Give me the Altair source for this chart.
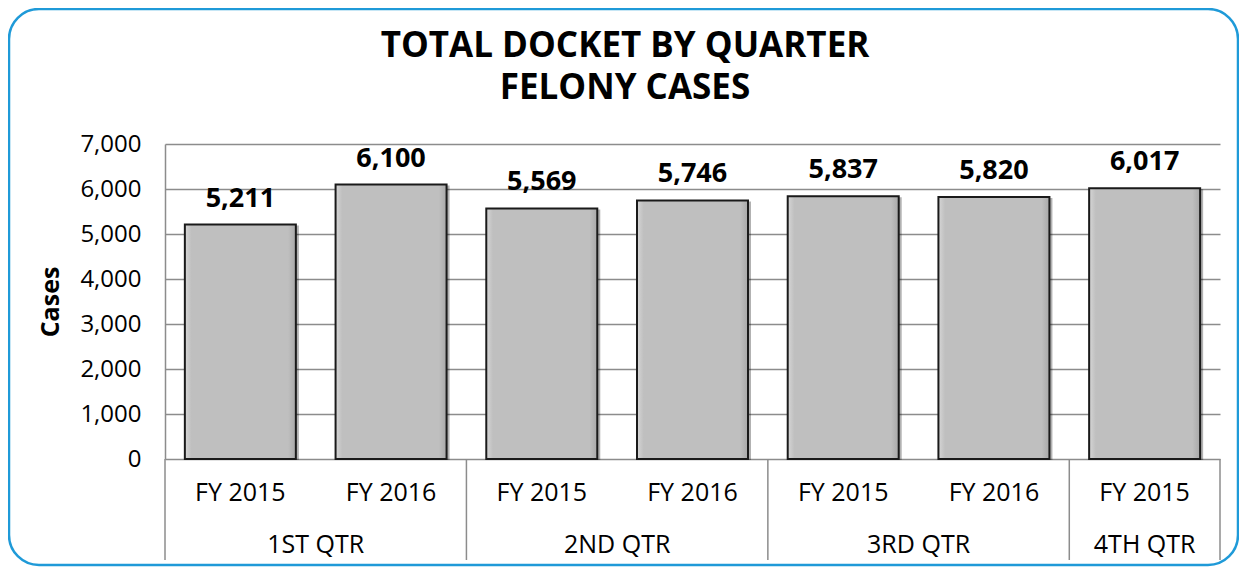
import altair as alt
import pandas as pd

# ---- data ----
quarters = ["1ST QTR", "1ST QTR", "2ND QTR", "2ND QTR", "3RD QTR", "3RD QTR", "4TH QTR"]
years = ["FY 2015", "FY 2016", "FY 2015", "FY 2016", "FY 2015", "FY 2016", "FY 2015"]
cases = [5211, 6100, 5569, 5746, 5837, 5820, 6017]
title_lines = ["TOTAL DOCKET BY QUARTER", "FELONY CASES"]
y_ticks = [0, 1000, 2000, 3000, 4000, 5000, 6000, 7000]

FONT = "Open Sans"
W, H = 1055, 315

df = pd.DataFrame({"quarter": quarters, "year": years, "cases": cases,
                   "pos": list(range(len(cases)))})
grp = df.groupby("quarter", sort=False)["pos"].agg(["min", "max"]).reset_index()
grp["center"] = (grp["min"] + grp["max"]) / 2
bounds = sorted(set((grp["min"] - 0.5).tolist()) | set((grp["max"] + 0.5).tolist()))
bdf = pd.DataFrame({"b": bounds})

xscale = alt.Scale(domain=[-0.5, len(cases) - 0.5], nice=False, zero=False, padding=0)
X = alt.X("pos:Q", scale=xscale, axis=None)
yscale = alt.Scale(domain=[0, 7000], nice=False)
yaxis = alt.Axis(values=y_ticks, format=",.0f", title="Cases",
                 titleX=-115, titleY=H / 2, titleAngle=-90,
                 titleAlign="center", titleBaseline="middle")
Y = alt.Y("cases:Q", scale=yscale, axis=yaxis)

border = alt.Chart(pd.DataFrame({"k": [0]})).mark_rect(
    fill="#ffffff", fillOpacity=0, stroke="#1f9ad8", strokeWidth=2.5, cornerRadius=30
).encode(x=alt.value(-156), x2=alt.value(1073), y=alt.value(-135), y2=alt.value(421))

title_layers = []
for line, ypix in zip(title_lines, [-98, -56]):
    title_layers.append(
        alt.Chart(pd.DataFrame({"t": [line]})).mark_text(
            font=FONT, fontSize=35, fontWeight="bold", color="#000000",
            baseline="middle", align="center"
        ).encode(text="t:N", x=alt.value(460), y=alt.value(ypix))
    )

grad = alt.Gradient(
    gradient="linear",
    stops=[alt.GradientStop(color="#d6d6d6", offset=0),
           alt.GradientStop(color="#bfbfbf", offset=0.06),
           alt.GradientStop(color="#bfbfbf", offset=0.93),
           alt.GradientStop(color="#a8a8a8", offset=1)],
    x1=0, x2=1, y1=0, y2=0,
)

shadow = alt.Chart(df).mark_bar(width=111, color="#000000", opacity=0.3, xOffset=3, yOffset=1).encode(
    x=X, y=Y
)

bars = alt.Chart(df).mark_bar(width=111, fill=grad, stroke="#1a1a1a", strokeWidth=2).encode(
    x=X, y=Y
)

labels = alt.Chart(df).mark_text(
    font=FONT, fontSize=27, fontWeight="bold", baseline="bottom", dy=-12, color="#000000"
).encode(x=X, y=Y, text=alt.Text("cases:Q", format=","))

seps = alt.Chart(bdf).mark_rule(color="#8c8c8c", strokeWidth=1.5).encode(
    x=alt.X("b:Q", scale=xscale, axis=None), y=alt.value(H), y2=alt.value(H + 101)
)

year_text = alt.Chart(df).mark_text(font=FONT, fontSize=25, baseline="middle", color="#000000").encode(
    x=X, y=alt.value(H + 34), text="year:N"
)

qtr_text = alt.Chart(grp).mark_text(font=FONT, fontSize=25, baseline="middle", color="#000000").encode(
    x=alt.X("center:Q", scale=xscale, axis=None), y=alt.value(H + 86), text="quarter:N"
)

chart = alt.layer(shadow, bars, labels, border, *title_layers, seps, year_text, qtr_text).properties(
    width=W, height=H,
    autosize=alt.AutoSizeParams(type="none"),
    padding={"left": 157, "top": 136, "right": 19, "bottom": 108},
).configure_view(stroke=None).configure_axis(
    labelFont=FONT, labelFontSize=24, labelColor="#000000", labelPadding=24,
    ticks=False, domainColor="#8c8c8c", domainWidth=1.5,
    gridColor="#8c8c8c", gridWidth=1.5,
    titleFont=FONT, titleFontSize=25, titleFontWeight="bold", titleColor="#000000",
)

chart.save("out.html", embed_options={"renderer": "svg", "actions": False})
